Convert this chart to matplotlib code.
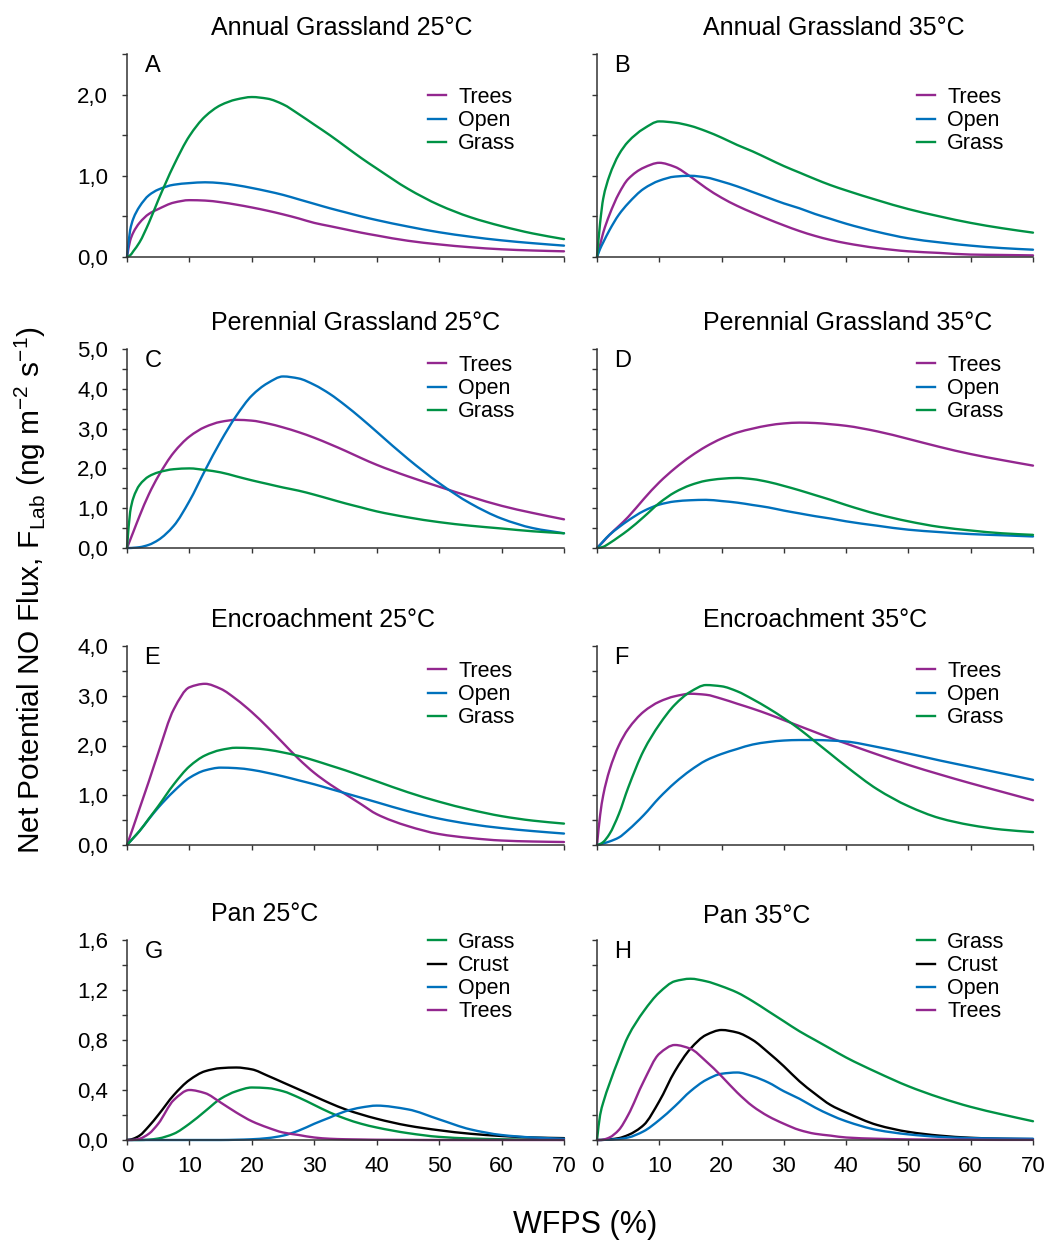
import numpy as np
import matplotlib
matplotlib.use("Agg")
from matplotlib import pyplot as plt
from matplotlib.lines import Line2D
from matplotlib.patches import PathPatch
from matplotlib.path import Path
from matplotlib.ticker import MultipleLocator, FuncFormatter

plt.rcParams["font.family"] = ["Liberation Sans", "DejaVu Sans"]

# water-filled pore space (%)
wfps = [0, 0.5, 1, 2, 3.5, 5, 7.5, 10, 12.5, 15, 17.5, 20, 22.5, 25, 27.5,
        30, 32.5, 35, 37.5, 40, 45, 50, 55, 60, 65, 70]

# A: Annual Grassland 25°C
a_trees = [0, 0.2, 0.3, 0.42, 0.53, 0.59, 0.67, 0.70, 0.695, 0.675, 0.645, 0.61, 0.57,
           0.525, 0.475, 0.42, 0.38, 0.34, 0.30, 0.265, 0.20, 0.155, 0.12, 0.095, 0.08, 0.07]
a_open = [0, 0.33, 0.47, 0.62, 0.76, 0.83, 0.89, 0.91, 0.92, 0.91, 0.885, 0.85, 0.81,
          0.765, 0.71, 0.655, 0.60, 0.55, 0.50, 0.455, 0.375, 0.305, 0.25, 0.205, 0.17, 0.14]
a_grass = [0, 0.02, 0.07, 0.18, 0.42, 0.70, 1.13, 1.49, 1.73, 1.87, 1.94, 1.97, 1.95,
           1.88, 1.76, 1.63, 1.50, 1.36, 1.22, 1.09, 0.84, 0.64, 0.49, 0.38, 0.29, 0.22]

# B: Annual Grassland 35°C
b_trees = [0, 0.15, 0.3, 0.52, 0.78, 0.96, 1.10, 1.16, 1.11, 0.99, 0.85, 0.73, 0.63,
           0.545, 0.465, 0.39, 0.32, 0.26, 0.21, 0.17, 0.11, 0.07, 0.05, 0.03, 0.025, 0.02]
b_open = [0, 0.10, 0.18, 0.33, 0.52, 0.66, 0.84, 0.94, 0.99, 1.0, 0.98, 0.93, 0.87,
          0.80, 0.73, 0.66, 0.60, 0.53, 0.47, 0.41, 0.31, 0.23, 0.18, 0.14, 0.11, 0.09]
b_grass = [0, 0.42, 0.72, 1.0, 1.26, 1.42, 1.58, 1.67, 1.655, 1.615, 1.55, 1.47, 1.38,
           1.30, 1.21, 1.12, 1.04, 0.96, 0.885, 0.82, 0.70, 0.59, 0.50, 0.42, 0.355, 0.30]

# C: Perennial Grassland 25°C
c_trees = [0, 0.2, 0.4, 0.8, 1.35, 1.8, 2.4, 2.8, 3.04, 3.17, 3.22, 3.2, 3.13,
           3.03, 2.91, 2.77, 2.61, 2.44, 2.26, 2.09, 1.8, 1.54, 1.29, 1.06, 0.88, 0.72]
c_open = [0, 0, 0.005, 0.02, 0.08, 0.2, 0.56, 1.18, 1.95, 2.68, 3.32, 3.83, 4.14,
          4.31, 4.26, 4.10, 3.87, 3.58, 3.26, 2.92, 2.24, 1.63, 1.12, 0.74, 0.50, 0.37]
c_grass = [0, 0.9, 1.25, 1.58, 1.8, 1.9, 1.98, 2.0, 1.96, 1.9, 1.8, 1.7, 1.61,
           1.52, 1.44, 1.34, 1.23, 1.12, 1.02, 0.92, 0.77, 0.65, 0.56, 0.49, 0.42, 0.37]

# D: Perennial Grassland 35°C
d_trees = [0, 0.08, 0.16, 0.33, 0.55, 0.78, 1.23, 1.65, 2.0, 2.3, 2.55, 2.75, 2.9,
           3.0, 3.08, 3.13, 3.15, 3.14, 3.11, 3.07, 2.93, 2.74, 2.54, 2.36, 2.21, 2.07]
d_open = [0, 0.08, 0.17, 0.33, 0.52, 0.69, 0.93, 1.09, 1.17, 1.2, 1.21, 1.18, 1.14,
          1.08, 1.02, 0.94, 0.87, 0.80, 0.74, 0.67, 0.56, 0.46, 0.40, 0.35, 0.32, 0.29]
d_grass = [0, 0.01, 0.03, 0.12, 0.28, 0.45, 0.78, 1.13, 1.4, 1.58, 1.69, 1.74, 1.76,
           1.73, 1.66, 1.56, 1.45, 1.33, 1.21, 1.08, 0.85, 0.67, 0.53, 0.44, 0.37, 0.33]

# E: Encroachment 25°C
e_trees = [0, 0.18, 0.36, 0.73, 1.28, 1.85, 2.73, 3.17, 3.24, 3.14, 2.93, 2.67, 2.37,
           2.05, 1.73, 1.45, 1.22, 1.02, 0.82, 0.62, 0.38, 0.22, 0.14, 0.09, 0.07, 0.06]
e_open = [0, 0.07, 0.14, 0.28, 0.52, 0.75, 1.08, 1.35, 1.5, 1.555, 1.545, 1.51, 1.45,
          1.38, 1.3, 1.22, 1.13, 1.04, 0.95, 0.86, 0.68, 0.53, 0.42, 0.34, 0.28, 0.23]
e_grass = [0, 0.07, 0.14, 0.28, 0.53, 0.78, 1.22, 1.58, 1.8, 1.91, 1.955, 1.945, 1.915,
           1.86, 1.79, 1.7, 1.6, 1.5, 1.39, 1.28, 1.06, 0.87, 0.71, 0.58, 0.49, 0.43]

# F: Encroachment 35°C
f_trees = [0, 0.6, 1.0, 1.5, 2.0, 2.33, 2.68, 2.88, 2.99, 3.04, 3.02, 2.94, 2.84,
           2.74, 2.63, 2.51, 2.39, 2.27, 2.15, 2.04, 1.82, 1.61, 1.42, 1.24, 1.07, 0.90]
f_open = [0, 0.01, 0.03, 0.07, 0.15, 0.3, 0.6, 0.95, 1.25, 1.5, 1.7, 1.83, 1.93,
          2.02, 2.07, 2.1, 2.11, 2.11, 2.1, 2.08, 1.97, 1.84, 1.7, 1.57, 1.44, 1.31]
f_grass = [0, 0.02, 0.06, 0.22, 0.62, 1.15, 1.9, 2.42, 2.82, 3.08, 3.215, 3.19, 3.09,
           2.93, 2.75, 2.55, 2.33, 2.08, 1.83, 1.58, 1.12, 0.78, 0.54, 0.40, 0.31, 0.26]

# G: Pan 25°C
g_grass = [0, 0, 0, 0, 0.003, 0.012, 0.05, 0.13, 0.23, 0.33, 0.39, 0.42, 0.415,
           0.39, 0.34, 0.28, 0.22, 0.17, 0.13, 0.10, 0.055, 0.025, 0.012, 0.006, 0.003, 0.001]
g_crust = [0, 0.003, 0.01, 0.035, 0.11, 0.2, 0.36, 0.48, 0.55, 0.575, 0.58, 0.565, 0.515,
           0.46, 0.405, 0.35, 0.295, 0.245, 0.205, 0.17, 0.115, 0.078, 0.05, 0.032, 0.02, 0.015]
g_open = [0, 0, 0, 0, 0, 0, 0, 0, 0, 0, 0.002, 0.006, 0.015,
          0.035, 0.075, 0.13, 0.18, 0.23, 0.26, 0.275, 0.245, 0.165, 0.085, 0.04, 0.02, 0.01]
g_trees = [0, 0, 0.001, 0.01, 0.05, 0.13, 0.32, 0.40, 0.375, 0.30, 0.22, 0.15, 0.10,
           0.06, 0.04, 0.02, 0.01, 0.006, 0.004, 0.002, 0.001, 0, 0, 0, 0, 0]

# H: Pan 35°C
h_grass = [0, 0.2, 0.3, 0.45, 0.65, 0.83, 1.03, 1.18, 1.27, 1.29, 1.27, 1.23, 1.18,
           1.11, 1.03, 0.95, 0.87, 0.80, 0.73, 0.66, 0.54, 0.43, 0.34, 0.265, 0.205, 0.15]
h_crust = [0, 0, 0.001, 0.005, 0.015, 0.04, 0.12, 0.31, 0.55, 0.73, 0.84, 0.88, 0.86,
           0.80, 0.70, 0.59, 0.47, 0.37, 0.28, 0.22, 0.12, 0.065, 0.035, 0.018, 0.01, 0.007]
h_open = [0, 0, 0.001, 0.003, 0.008, 0.02, 0.07, 0.16, 0.27, 0.39, 0.48, 0.53, 0.54,
          0.51, 0.46, 0.39, 0.33, 0.26, 0.20, 0.15, 0.08, 0.045, 0.025, 0.015, 0.012, 0.01]
h_trees = [0, 0, 0.003, 0.02, 0.08, 0.2, 0.47, 0.69, 0.76, 0.73, 0.63, 0.51, 0.38,
           0.27, 0.19, 0.13, 0.08, 0.05, 0.035, 0.02, 0.01, 0.005, 0.003, 0.002, 0.001, 0.001]

titles = ["Annual Grassland 25°C", "Annual Grassland 35°C",
          "Perennial Grassland 25°C", "Perennial Grassland 35°C",
          "Encroachment 25°C", "Encroachment 35°C",
          "Pan 25°C", "Pan 35°C"]
letters = ["A", "B", "C", "D", "E", "F", "G", "H"]

colors = {"Trees": "#93278F", "Open": "#0071BC", "Grass": "#009245", "Crust": "#000000"}

panels = [
    [("Trees", a_trees), ("Open", a_open), ("Grass", a_grass)],
    [("Trees", b_trees), ("Open", b_open), ("Grass", b_grass)],
    [("Trees", c_trees), ("Open", c_open), ("Grass", c_grass)],
    [("Trees", d_trees), ("Open", d_open), ("Grass", d_grass)],
    [("Trees", e_trees), ("Open", e_open), ("Grass", e_grass)],
    [("Trees", f_trees), ("Open", f_open), ("Grass", f_grass)],
    [("Grass", g_grass), ("Crust", g_crust), ("Open", g_open), ("Trees", g_trees)],
    [("Grass", h_grass), ("Crust", h_crust), ("Open", h_open), ("Trees", h_trees)],
]

# per-row y axis: (max, tick step, label step)
row_y = [(2.5, 0.5, 1.0), (5.0, 0.5, 1.0), (4.0, 0.5, 1.0), (1.6, 0.2, 0.4)]
legend_top = [0.838, 0.97, 0.925, 1.04]


def smooth_path(x, y):
    """Monotone cubic (Fritsch-Carlson) through the read points, as Bezier segments."""
    x = np.asarray(x, float)
    y = np.asarray(y, float)
    h = np.diff(x)
    d = np.diff(y) / h
    m = np.zeros_like(y)
    m[0], m[-1] = d[0], d[-1]
    for k in range(1, len(x) - 1):
        if d[k - 1] * d[k] <= 0:
            m[k] = 0.0
        else:
            w1 = 2 * h[k] + h[k - 1]
            w2 = h[k] + 2 * h[k - 1]
            m[k] = (w1 + w2) / (w1 / d[k - 1] + w2 / d[k])
    verts = [(x[0], y[0])]
    codes = [Path.MOVETO]
    for k in range(len(x) - 1):
        verts += [(x[k] + h[k] / 3, y[k] + m[k] * h[k] / 3),
                  (x[k + 1] - h[k] / 3, y[k + 1] - m[k + 1] * h[k] / 3),
                  (x[k + 1], y[k + 1])]
        codes += [Path.CURVE4] * 3
    return Path(verts, codes)


W, H = 1047, 1244
fig = plt.figure(figsize=(W / 100, H / 100), dpi=100)

col_left = [127, 597]
col_width = [437, 436]
row_top = [54, 349, 646, 940]
row_bottom = [257, 548, 845, 1140]

fs = 15.5
spine_c = "#333333"

for i, series in enumerate(panels):
    r, c = divmod(i, 2)
    ax = fig.add_axes([col_left[c] / W, 1 - row_bottom[r] / H,
                       col_width[c] / W, (row_bottom[r] - row_top[r]) / H])
    handles = []
    for name, vals in series:
        ax.add_patch(PathPatch(smooth_path(wfps, vals), fill=False,
                               edgecolor=colors[name], lw=1.7, capstyle="round",
                               joinstyle="round", clip_on=False))
        handles.append(Line2D([], [], color=colors[name], lw=1.7, label=name))

    ymax, step, major = row_y[r]
    ax.set_xlim(0, 70)
    ax.set_ylim(0, ymax)
    ax.set_xticks(np.arange(0, 71, 10))
    ax.yaxis.set_major_locator(MultipleLocator(step))

    def fmt(v, pos, major=major):
        k = v / major
        if abs(k - round(k)) < 1e-6:
            return "{:.1f}".format(v).replace(".", ",")
        return ""
    ax.yaxis.set_major_formatter(FuncFormatter(fmt))

    for side in ("top", "right"):
        ax.spines[side].set_visible(False)
    for side in ("left", "bottom"):
        ax.spines[side].set_color(spine_c)
        ax.spines[side].set_linewidth(1.1)
    ax.tick_params(axis="both", direction="out", length=3.5, width=1.0,
                   color=spine_c, labelsize=16)
    ax.tick_params(axis="y", pad=10)
    ax.tick_params(axis="x", pad=8)
    if r < 3:
        ax.tick_params(axis="x", labelbottom=False)
    if c == 1:
        ax.tick_params(axis="y", labelleft=False)

    ax.text(0.04, 0.995, letters[i], transform=ax.transAxes, ha="left", va="top",
            fontsize=17)
    tx = 0.192 if c == 0 else 0.243
    ty = 1.13 if i != 7 else 1.12
    ax.text(tx, ty, titles[i], transform=ax.transAxes, ha="left", va="center",
            fontsize=18)

    lx = 0.689 if c == 0 else 0.734
    ax.legend(handles=handles, loc="upper left", bbox_to_anchor=(lx, legend_top[r]),
              frameon=False, fontsize=fs, handlelength=0.85, handletextpad=0.55,
              labelspacing=0.1, borderpad=0, borderaxespad=0)

fig.text(30 / W, 1 - 590 / H,
         "Net Potential NO Flux, F$_{\\mathregular{Lab}}$ (ng m$^{\\mathregular{-2}}$ s$^{\\mathregular{-1}}$)",
         rotation=90, ha="center", va="center", fontsize=21.5)
fig.text(585 / W, 1 - 1225 / H, "WFPS (%)", ha="center", va="center", fontsize=22)

fig.savefig("out.png", dpi=100)
